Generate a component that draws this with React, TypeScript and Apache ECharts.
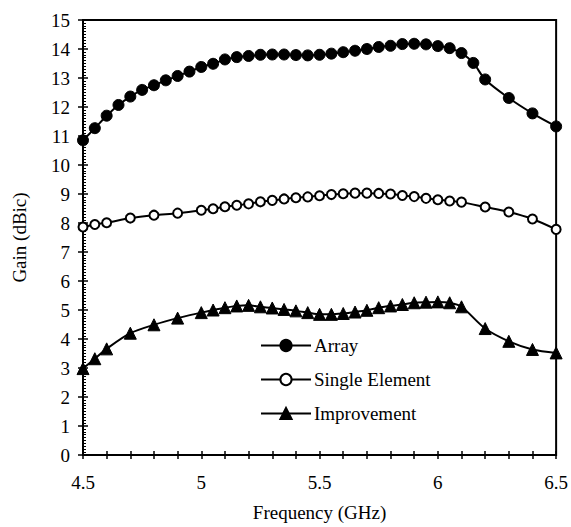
import React, { useEffect, useRef } from "react";
import * as echarts from "echarts";

const freqArray = [4.5, 4.55, 4.6, 4.65, 4.7, 4.75, 4.8, 4.85, 4.9, 4.95, 5.0, 5.05, 5.1, 5.15, 5.2, 5.25, 5.3, 5.35, 5.4, 5.45, 5.5, 5.55, 5.6, 5.65, 5.7, 5.75, 5.8, 5.85, 5.9, 5.95, 6.0, 6.05, 6.1, 6.15, 6.2, 6.3, 6.4, 6.5];
const gainArray = [10.85, 11.27, 11.7, 12.07, 12.36, 12.59, 12.75, 12.92, 13.07, 13.22, 13.38, 13.49, 13.64, 13.72, 13.76, 13.8, 13.81, 13.81, 13.79, 13.78, 13.8, 13.84, 13.89, 13.94, 14.0, 14.07, 14.11, 14.17, 14.18, 14.16, 14.1, 14.03, 13.86, 13.52, 12.95, 12.31, 11.78, 11.33];

const freqSingle = [4.5, 4.55, 4.6, 4.7, 4.8, 4.9, 5.0, 5.05, 5.1, 5.15, 5.2, 5.25, 5.3, 5.35, 5.4, 5.45, 5.5, 5.55, 5.6, 5.65, 5.7, 5.75, 5.8, 5.85, 5.9, 5.95, 6.0, 6.05, 6.1, 6.2, 6.3, 6.4, 6.5];
const gainSingle = [7.86, 7.95, 8.01, 8.17, 8.27, 8.34, 8.44, 8.49, 8.56, 8.61, 8.66, 8.73, 8.78, 8.83, 8.87, 8.9, 8.94, 8.98, 9.01, 9.03, 9.03, 9.02, 9.0, 8.95, 8.91, 8.85, 8.8, 8.76, 8.72, 8.55, 8.38, 8.14, 7.78];
const gainImprovement = [2.98, 3.32, 3.66, 4.2, 4.49, 4.72, 4.91, 5.0, 5.08, 5.14, 5.16, 5.11, 5.07, 5.02, 4.97, 4.91, 4.85, 4.85, 4.88, 4.93, 4.99, 5.08, 5.14, 5.19, 5.25, 5.27, 5.28, 5.25, 5.11, 4.36, 3.92, 3.64, 3.52];

const seriesNames = ["Array", "Single Element", "Improvement"];
const xTitle = "Frequency (GHz)";
const yTitle = "Gain (dBic)";

const FONT = "Liberation Serif, serif";

const zip = (xs: number[], ys: number[]) => xs.map((x, i) => [x, ys[i]]);

export default function App() {
  const ref = useRef<HTMLDivElement>(null);
  useEffect(() => {
    if (!ref.current) return;
    const chart = echarts.init(ref.current, undefined, { renderer: "svg" });
    const lineBase = {
      type: "line" as const,
      smooth: 0.3,
      clip: false,
      lineStyle: { color: "#000", width: 2 },
      xAxisIndex: 0,
      yAxisIndex: 0,
    };
    chart.setOption({
      animation: false,
      backgroundColor: "#fff",
      textStyle: { fontFamily: FONT, color: "#000" },
      grid: {
        left: 83,
        right: 14,
        top: 20,
        bottom: 66,
        show: true,
        borderColor: "#000",
        borderWidth: 2,
        backgroundColor: "transparent",
      },
      legend: {
        orient: "vertical",
        left: 260,
        top: 336,
        padding: 0,
        itemWidth: 50,
        itemHeight: 14,
        itemGap: 15,
        data: seriesNames,
        textStyle: { fontFamily: FONT, fontSize: 19, color: "#000", padding: [0, 0, 0, -2] },
      },
      xAxis: [
        {
          type: "value",
          min: 4.5,
          max: 6.5,
          interval: 0.1,
          name: xTitle,
          nameLocation: "middle",
          nameGap: 48,
          nameTextStyle: { fontFamily: FONT, fontSize: 19, color: "#000" },
          axisLine: { lineStyle: { color: "#000", width: 2 } },
          axisTick: { show: true, inside: false, length: 4, lineStyle: { color: "#000", width: 1.5 } },
          axisLabel: {
            fontFamily: FONT,
            fontSize: 19,
            color: "#000",
            margin: 18,
            formatter: (v: number) => {
              const d = v * 2;
              return Math.abs(d - Math.round(d)) < 1e-6 ? String(Math.round(v * 100) / 100) : "";
            },
          },
          splitLine: { show: false },
        },
        {
          type: "value",
          min: 4.5,
          max: 6.5,
          interval: 0.1,
          position: "bottom",
          axisLine: { show: false },
          axisTick: { show: true, inside: true, length: 4, lineStyle: { color: "#000", width: 1.5 } },
          axisLabel: { show: false },
          splitLine: { show: false },
        },
      ],
      yAxis: [
        {
          type: "value",
          min: 0,
          max: 15,
          interval: 1,
          name: yTitle,
          nameLocation: "middle",
          nameGap: 54,
          nameTextStyle: { fontFamily: FONT, fontSize: 19, color: "#000" },
          axisLine: { show: true, lineStyle: { color: "#000", width: 2 } },
          axisTick: { show: true, inside: true, length: 5, lineStyle: { color: "#000", width: 1.5 } },
          minorTick: { show: true, splitNumber: 10, length: 3, lineStyle: { color: "#000", width: 1 } },
          axisLabel: { fontFamily: FONT, fontSize: 19, color: "#000", margin: 13 },
          splitLine: { show: false },
        },
        {
          type: "value",
          min: 0,
          max: 15,
          interval: 1,
          position: "left",
          offset: 0,
          axisLine: { show: false },
          axisTick: { show: true, inside: false, length: 5, lineStyle: { color: "#000", width: 1.5 } },
          axisLabel: { show: false },
          splitLine: { show: false },
        },
      ],
      series: [
        {
          ...lineBase,
          name: seriesNames[0],
          data: zip(freqArray, gainArray),
          symbol: "circle",
          symbolSize: 11,
          itemStyle: { color: "#000", borderColor: "#000", borderWidth: 1 },
        },
        {
          ...lineBase,
          name: seriesNames[1],
          data: zip(freqSingle, gainSingle),
          symbol: "circle",
          symbolSize: 9,
          itemStyle: { color: "#fff", borderColor: "#000", borderWidth: 2 },
        },
        {
          ...lineBase,
          name: seriesNames[2],
          data: zip(freqSingle, gainImprovement),
          symbol: "triangle",
          symbolSize: 12,
          itemStyle: { color: "#000", borderColor: "#000", borderWidth: 1 },
        },
      ],
    });
    return () => chart.dispose();
  }, []);
  return (
    <div
      ref={ref}
      style={{ position: "fixed", left: 0, top: 0, width: 571, height: 527, background: "#fff" }}
    />
  );
}
